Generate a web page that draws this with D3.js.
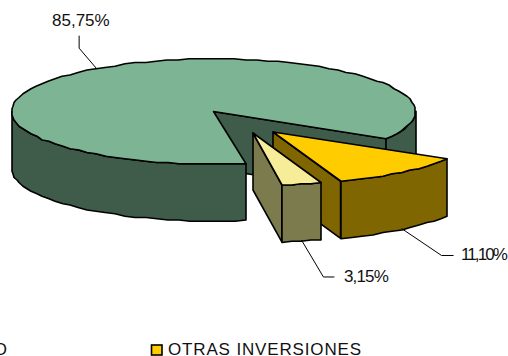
<!DOCTYPE html>
<html><head><meta charset="utf-8">
<script src="https://cdn.jsdelivr.net/npm/d3@7/dist/d3.min.js"></script>
<style>html,body{margin:0;padding:0;background:#fff;overflow:hidden}svg{display:block}text{font-family:"Liberation Sans",Arial,sans-serif;fill:#111}</style>
</head><body><svg width="508" height="356"></svg>
<script>
const categories = ["OTRAS INVERSIONES", "", "O"];
const values = [11.10, 3.15, 85.75];
const valueLabels = ["11,10%", "3,15%", "85,75%"];
const topColors = ["#ffcc00", "#f7ec98", "#7cb494"];
const wallColors = ["#806600", "#7b7b4d", "#3f5c4b"];

const svg = d3.select("svg");
const cx = 213.5, cy = 111.5, rx = 202, ry = 52.5, depth = 57;
const explode = [[59.5, 20.5], [39.5, 21.5], [0, 0]];
const PI = Math.PI, deg = PI / 180;
const arcs = d3.pie().sort(null).value(d => d).startAngle(120.5 * deg)
  .endAngle(120.5 * deg + 2 * PI)(values);

const pt = (i, a, r = 1, dz = 0) => {
  const t = a - PI / 2;
  return [cx + explode[i][0] + r * rx * Math.cos(t), cy + explode[i][1] + r * ry * Math.sin(t) + dz];
};
const samples = (a0, a1) => {
  const n = Math.max(1, Math.round(Math.abs(a1 - a0) / (3.2 * deg)));
  return d3.range(n + 1).map(k => a0 + (a1 - a0) * k / n);
};
const rough = p => [Math.round(p[0]), Math.round(p[1] * 0.8) / 0.8];
const line = d3.line();
const poly = (pts, fill) => svg.append("path").attr("d", line(pts) + "Z").attr("fill", fill)
  .attr("stroke", "#000").attr("stroke-width", 1.6).attr("stroke-linejoin", "round");

function outerWall(i, a0, a1) {
  const s = samples(a0, a1);
  poly(s.map(a => rough(pt(i, a))).concat(s.slice().reverse().map(a => rough(pt(i, a, 1, depth)))), wallColors[i]);
}
function radialWall(i, a) {
  poly([pt(i, 0, 0), pt(i, a), pt(i, a, 1, depth), pt(i, 0, 0, depth)], wallColors[i]);
}
function topFace(i, a0, a1) {
  poly([pt(i, 0, 0)].concat(samples(a0, a1).map(a => rough(pt(i, a)))), topColors[i]);
}

const [gold, cream, main] = arcs;
// the main slice's cut edges sit slightly inside the nominal angles in the picture
const mainStart = main.startAngle - 1.1 * deg, mainEnd = main.endAngle + 0.7 * deg;
radialWall(2, mainEnd);
outerWall(2, 2.5 * PI, mainEnd);
outerWall(2, mainStart, 1.5 * PI);
topFace(2, mainStart, mainEnd);
// gold slice
radialWall(0, gold.endAngle);
outerWall(0, gold.startAngle, gold.endAngle);
topFace(0, gold.startAngle, gold.endAngle);
// cream slice
radialWall(1, cream.endAngle);
outerWall(1, cream.startAngle, cream.endAngle);
topFace(1, cream.startAngle, cream.endAngle);

// leaders & labels
const leaders = [
  { i: 0, dz: depth - 1, shift: 0, elbow: [40, 27], tail: 12, lx: 461, ly: 260, sp: -1.9 },
  { i: 1, dz: depth - 1, shift: 0, elbow: [22, 37], tail: 11, lx: 344, ly: 282, sp: -0.85 },
  { i: 2, dz: 0, shift: -1.5, elbow: [-17.5, -20.5], tail: -12.5, vertical: true, lx: 52, ly: 26, sp: 0 }
];
leaders.forEach(l => {
  const d = arcs[l.i];
  const p = pt(l.i, (d.startAngle + d.endAngle) / 2 + l.shift * deg, 1, l.dz);
  const e = [p[0] + l.elbow[0], p[1] + l.elbow[1]];
  const t = l.vertical ? [e[0], e[1] + l.tail] : [e[0] + l.tail, e[1]];
  svg.append("path").attr("d", line([p, e, t])).attr("fill", "none").attr("stroke", "#000").attr("stroke-width", 1);
  svg.append("text").attr("x", l.lx).attr("y", l.ly).attr("font-size", 17).attr("letter-spacing", l.sp).text(valueLabels[l.i]);
});

// legend
svg.append("rect").attr("x", 151.5).attr("y", 345).attr("width", 10.5).attr("height", 10)
  .attr("fill", topColors[0]).attr("stroke", "#000").attr("stroke-width", 1.6);
svg.append("text").attr("x", 168).attr("y", 355).attr("font-size", 17).attr("letter-spacing", 0.85).text(categories[0]);
svg.append("text").attr("x", 7).attr("y", 355).attr("text-anchor", "end").attr("font-size", 17).text(categories[2]);
</script></body></html>
